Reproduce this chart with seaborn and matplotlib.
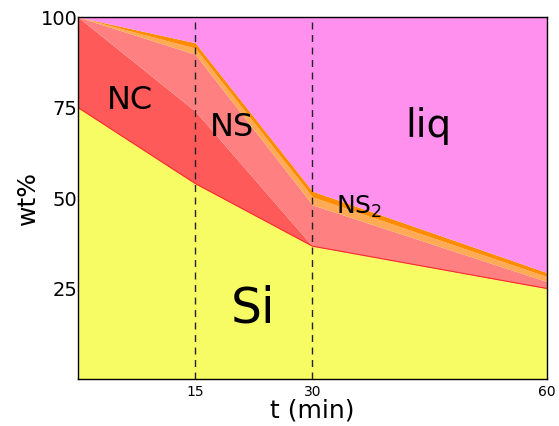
import numpy as np
import pandas as pd
import seaborn as sns
import matplotlib.pyplot as plt

# phase fractions (wt%) at each time step
t_min = [0, 15, 30, 60]
si = [75, 54, 36.7, 25]
nc = [25, 20, 0, 0]
ns = [0, 15.7, 11.4, 1.9]
ns2 = [0, 1.7, 2.2, 1.4]
rim = [0, 1.5, 1.6, 1.1]
liq = [0, 7.1, 48.1, 70.6]

layer_names = ["Si", "NC", "NS", "NS2", "rim", "liq"]
layer_colors = ["#f8fc64", "#ff5a5a", "#ff8080", "#ffaa55", "#ff8c00", "#ff90ee"]

df = pd.DataFrame({"t": t_min, "Si": si, "NC": nc, "NS": ns,
                   "NS2": ns2, "rim": rim, "liq": liq})

sns.set_theme(style="white")
plt.rcParams['font.family'] = ['DejaVu Sans']
plt.rcParams['text.color'] = 'black'
plt.rcParams['axes.labelcolor'] = 'black'
plt.rcParams['xtick.color'] = 'black'
plt.rcParams['ytick.color'] = 'black'

fig = plt.figure(figsize=(5.59, 4.26), dpi=100)
ax = fig.add_axes([0.1395, 0.1103, 0.839, 0.8497])

ax.stackplot(df["t"], *[df[c] for c in layer_names], colors=layer_colors,
             linewidth=0)

# red edge along top of the Si layer
sns.lineplot(x=df["t"], y=df["Si"], color="#ff2a2a", linewidth=0.8, ax=ax)

for tv in [15, 30]:
    ax.axvline(tv, color="#222222", linestyle=(0, (5, 4)), linewidth=1)

ax.text(6.6, 77, "NC", fontsize=23, ha="center", va="center")
ax.text(19.7, 69.5, "NS", fontsize=23, ha="center", va="center")
ax.text(44.8, 70, "liq", fontsize=28, ha="center", va="center")
ax.text(36, 47.5, "NS$_2$", fontsize=18, ha="center", va="center")
ax.text(22.4, 19.5, "Si", fontsize=35, ha="center", va="center")

ax.set_xlim(0, 60)
ax.set_ylim(0, 100)
ax.set_xticks([15, 30, 60])
ax.set_yticks([25, 50, 75, 100])
ax.tick_params(axis="x", labelsize=10, length=0, pad=4)
ax.tick_params(axis="y", labelsize=14, length=0, pad=0.5)
ax.set_xlabel("t (min)", fontsize=18, labelpad=0)
ax.set_ylabel("wt%", fontsize=18, labelpad=0)

for sp in ax.spines.values():
    sp.set_color("black")
    sp.set_linewidth(1)
    sp.set_zorder(5)

fig.savefig("out.png", dpi=100)
